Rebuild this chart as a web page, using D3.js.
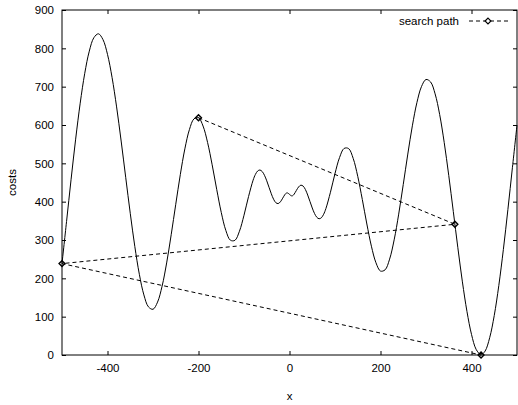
<!DOCTYPE html>
<html>
<head>
<meta charset="utf-8">
<script src="https://cdn.jsdelivr.net/npm/d3@7"></script>
<style>
  body { margin: 0; background: #fff; }
  svg { display: block; }
  text { font-family: "Liberation Sans", Arial, sans-serif; font-size: 11.5px; fill: #000; }
</style>
</head>
<body>
<svg id="chart" width="518" height="405"></svg>
<script>
// curve samples (x position, cost at that x)
const curveX = [
  -500, -490, -480, -470, -460, -450, -440, -430, -420, -410, -400, -390, -380, -370, -360, -350,
  -340, -330, -320, -310, -300, -290, -280, -270, -260, -250, -240, -230, -220, -210, -200, -190,
  -180, -170, -160, -150, -140, -130, -120, -110, -100, -90, -80, -75, -70, -65, -60, -55, -50,
  -45, -40, -35, -30, -25, -20, -15, -10, -7.5, -5, -2.5, 0, 2.5, 5, 7.5, 10, 15, 20, 25, 30,
  35, 40, 45, 50, 55, 60, 65, 70, 75, 80, 90, 100, 110, 120, 130, 140, 150, 160, 170, 180,
  190, 200, 210, 220, 230, 240, 250, 260, 270, 280, 290, 300, 310, 320, 330, 340, 350, 360,
  370, 380, 390, 400, 410, 420, 421, 430, 440, 450, 460, 470, 480, 490, 500
];
const curveCost = [
  238.4, 348.3, 458.5, 563.1, 656.9, 734.9, 792.7, 827.7, 837.9, 823.0, 784.2, 724.2, 647.2, 558.2, 463.6, 369.7,
  283.3, 210.5, 156.7, 125.6, 119.3, 138.0, 179.6, 240.2, 313.8, 393.2, 470.5, 537.7, 587.9, 615.9, 619.0, 597.3,
  554.2, 496.3, 432.2, 372.0, 325.2, 299.6, 299.1, 322.9, 364.6, 413.4, 456.0, 470.9, 480.0, 482.6, 478.6, 468.8, 454.4,
  437.5, 420.6, 406.4, 397.3, 395.0, 399.6, 409.0, 418.8, 421.9, 422.9, 421.5, 419.0, 416.5, 415.1, 416.0, 419.2, 429.0, 438.4, 443.0, 440.6,
  431.5, 417.3, 400.4, 383.5, 369.2, 359.3, 355.4, 358.0, 367.1, 382.0, 424.6, 473.4, 515.1, 538.9, 538.4, 512.8, 466.0, 405.8, 341.7, 283.8,
  240.7, 219.0, 222.1, 250.1, 300.3, 367.5, 444.8, 524.2, 597.8, 658.4, 700.0, 718.7, 712.4, 681.3, 627.5, 554.7, 468.3, 374.4,
  279.8, 190.8, 113.8, 53.8, 15.0, 0.1, 0.0, 10.3, 45.3, 103.1, 181.1, 274.9, 379.5, 489.7, 599.6
];

// search path visited points, in order
const pathX = [-200, 363.5, -500, 420.97];
const pathCost = [619.0, 341.0, 238.4, 0.0];

const xTicks = [-400, -200, 0, 200, 400];
const yTicks = [0, 100, 200, 300, 400, 500, 600, 700, 800, 900];

let svg = d3.select("#chart"),
    margin = {top: 10, right: 1, bottom: 50, left: 62},
    width = +svg.attr("width") - margin.left - margin.right,
    height = +svg.attr("height") - margin.top - margin.bottom;

let x = d3.scaleLinear().domain([-500, 500]).range([0, width]),
    y = d3.scaleLinear().domain([0, 900]).range([height, 0]);

let g = svg.append("g")
    .attr("transform", "translate(" + margin.left + "," + margin.top + ")");

svg.append("defs").append("clipPath").attr("id", "plotclip")
  .append("rect").attr("x", -1).attr("y", -1).attr("width", width + 2).attr("height", height + 2);

const tickLen = 4;
//Plain hyphen for negatives, like the original
const plain = d => String(d);

//Axes with inward ticks (mirrored on top and right)
let xAxis = d3.axisBottom(x).tickValues(xTicks).tickFormat(plain).tickSizeInner(-tickLen).tickSizeOuter(0).tickPadding(9);
let yAxis = d3.axisLeft(y).tickValues(yTicks).tickFormat(plain).tickSizeInner(-tickLen).tickSizeOuter(0).tickPadding(8);

g.append("g").attr("class", "axis")
    .attr("transform", "translate(0," + height + ")")
    .call(xAxis);
g.append("g").attr("class", "axis").call(yAxis);

g.append("g").attr("class", "axis mirror")
    .call(d3.axisTop(x).tickValues(xTicks).tickSizeInner(-tickLen).tickSizeOuter(0).tickFormat(""));
g.append("g").attr("class", "axis mirror")
    .attr("transform", "translate(" + width + ",0)")
    .call(d3.axisRight(y).tickValues(yTicks).tickSizeInner(-tickLen).tickSizeOuter(0).tickFormat(""));

g.selectAll(".axis .domain").remove();
g.selectAll(".axis text").style("font-size", "11.5px").attr("fill", "#000");
g.selectAll(".axis line").attr("stroke", "#000");

//Frame around the plot
g.append("rect")
    .attr("x", 0).attr("y", 0)
    .attr("width", width).attr("height", height)
    .attr("fill", "none").attr("stroke", "#000").attr("stroke-width", 1);

//Cost curve
let line = d3.line()
    .x((d, i) => x(curveX[i]))
    .y(d => y(d))
    .curve(d3.curveCatmullRom);

g.append("path")
    .attr("clip-path", "url(#plotclip)")
    .attr("d", line(curveCost))
    .attr("fill", "none")
    .attr("stroke", "#000")
    .attr("stroke-width", 1);

//Search path, dashed with diamond markers
let pathLine = d3.line()
    .x((d, i) => x(pathX[i]))
    .y(d => y(d));

g.append("path")
    .attr("d", pathLine(pathCost))
    .attr("fill", "none")
    .attr("stroke", "#000")
    .attr("stroke-width", 1)
    .attr("stroke-dasharray", "4,3");

let diamond = d3.symbol().type(d3.symbolDiamond2).size(22);

g.selectAll(".pt")
    .data(pathCost)
    .enter().append("path")
    .attr("class", "pt")
    .attr("transform", (d, i) => "translate(" + x(pathX[i]) + "," + y(d) + ")")
    .attr("d", diamond)
    .attr("fill", "none")
    .attr("stroke", "#000")
    .attr("stroke-width", 1.4);

//Legend
let legend = svg.append("g").attr("transform", "translate(0,21)");
legend.append("text")
    .attr("x", 459).attr("y", 4)
    .attr("text-anchor", "end")
    .text("search path");
legend.append("line")
    .attr("x1", 469).attr("x2", 508)
    .attr("y1", 0).attr("y2", 0)
    .attr("stroke", "#000")
    .attr("stroke-dasharray", "4,3");
legend.append("path")
    .attr("transform", "translate(488,0)")
    .attr("d", diamond)
    .attr("fill", "#fff")
    .attr("stroke", "#000")
    .attr("stroke-width", 1.2);

//Axis titles
svg.append("text")
    .attr("x", margin.left + x(0)).attr("y", 400)
    .attr("text-anchor", "middle")
    .text("x");
svg.append("text")
    .attr("transform", "translate(16," + (margin.top + height / 2) + ") rotate(-90)")
    .attr("text-anchor", "middle")
    .text("costs");
</script>
</body>
</html>
